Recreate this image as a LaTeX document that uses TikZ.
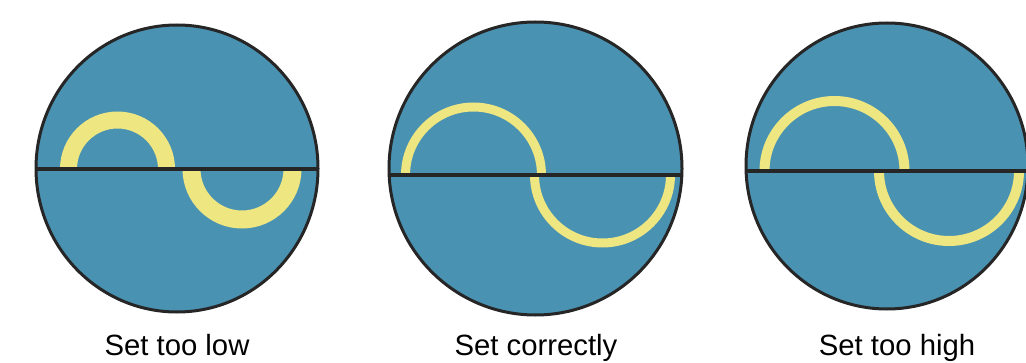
\documentclass[tikz,border=0pt]{standalone}
\usepackage{fontspec}
\setmainfont{Liberation Sans}
\definecolor{dialblue}{HTML}{4A92B2}
\definecolor{waveyel}{HTML}{EDE681}
\begin{document}
\begin{tikzpicture}[x=1pt,y=1pt,
  dialfill/.style={fill=dialblue},
  dialrim/.style={draw=black!85,line width=3pt},
  axisline/.style={draw=black!85,line width=4pt},
  wave/.style={draw=waveyel,line cap=butt},
  caption/.style={font=\fontsize{29.3}{32}\selectfont,anchor=base,inner sep=0pt}]
\useasboundingbox (0,0) rectangle (1026,362);
\clip (0,0) rectangle (1026,362);
% ---- dial 1: set too low
\fill[dialfill] (177,193.5) ellipse [x radius=141,y radius=143.5];
\begin{scope}
  \clip (177,193.5) ellipse [x radius=141,y radius=143.5];
  \draw[wave,line width=17pt] (68.5,193) arc[start angle=180,end angle=0,radius=49];
  \draw[wave,line width=18pt] (191.5,193) arc[start angle=180,end angle=360,radius=50.5];
  \draw[axisline] (30,193) -- (330,193);
\end{scope}
\draw[dialrim] (177,193.5) ellipse [x radius=141,y radius=143.5];
% ---- dial 2: set correctly
\fill[dialfill] (535.5,193.5) circle [radius=146.5];
\begin{scope}
  \clip (535.5,193.5) circle [radius=146.5];
  \draw[wave,line width=9pt] (405.5,187) arc[start angle=180,end angle=0,radius=68];
  \draw[wave,line width=9pt] (534.5,187) arc[start angle=180,end angle=360,radius=68];
  \draw[axisline] (380,187) -- (690,187);
\end{scope}
\draw[dialrim] (535.5,193.5) circle [radius=146.5];
% ---- dial 3: set too high
\fill[dialfill] (887,196) ellipse [x radius=141,y radius=143];
\begin{scope}
  \clip (887,196) ellipse [x radius=141,y radius=143];
  \draw[wave,line width=10pt] (764.5,191) arc[start angle=180,end angle=0,radius=70];
  \draw[wave,line width=10pt] (879,191) arc[start angle=180,end angle=360,radius=70];
  \draw[axisline] (740,191) -- (1040,191);
\end{scope}
\draw[dialrim] (887,196) ellipse [x radius=141,y radius=143];
% ---- captions
\node[caption] (c1) at (177,7) {Set too low};
\node[caption] (c2) at (536,7) {Set correctly};
\node[caption] (c3) at (897,7) {Set too high};
\end{tikzpicture}
\end{document}
